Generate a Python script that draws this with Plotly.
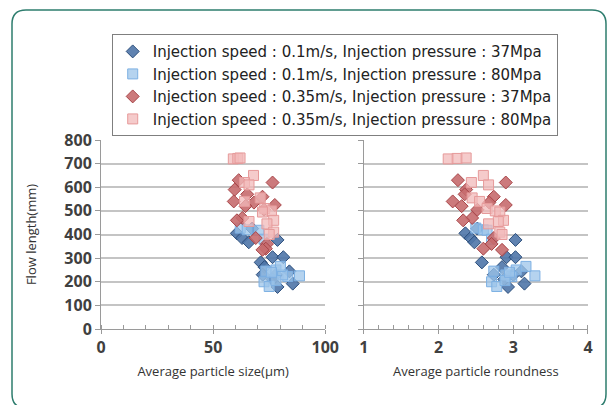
import plotly.graph_objects as go
from plotly.subplots import make_subplots

# ---- data ----
# Injection speed 0.1 m/s, pressure 37 MPa (dark blue diamonds)
s1_len   = [405, 385, 367, 425, 377, 282, 304, 304, 262, 230, 178, 192, 244, 229, 210]
s1_size  = [60.6, 62.9, 65.9, 67.4, 78.7, 71.2, 76.5, 81.3, 72.9, 72.1, 78.7, 85.5, 84.0, 78.0, 76.5]
s1_round = [2.36, 2.43, 2.48, 2.52, 3.03, 2.58, 2.91, 3.03, 2.85, 2.74, 2.93, 3.15, 3.11, 3.00, 2.88]

# Injection speed 0.1 m/s, pressure 80 MPa (light blue squares)
s2_len   = [427, 420, 418, 380, 250, 245, 222, 229, 225, 200, 180, 205, 265, 240]
s2_size  = [62.1, 65.2, 70.4, 72.7, 78.0, 73.5, 83.3, 81.0, 88.5, 72.7, 75.0, 78.0, 80.0, 76.0]
s2_round = [2.50, 2.60, 2.65, 2.71, 3.04, 2.74, 2.98, 2.90, 3.29, 2.71, 2.78, 2.89, 3.17, 2.95]

# Injection speed 0.35 m/s, pressure 37 MPa (red diamonds)
s3_len   = [630, 620, 590, 570, 560, 540, 535, 525, 520, 505, 470, 460, 385, 360, 340, 335]
s3_size  = [61.4, 76.5, 59.6, 65.2, 72.0, 59.2, 68.2, 77.5, 64.4, 72.7, 63.0, 60.6, 69.0, 74.0, 73.5, 72.0]
s3_round = [2.26, 2.90, 2.37, 2.35, 2.74, 2.19, 2.68, 2.90, 2.31, 2.52, 2.45, 2.33, 2.74, 2.71, 2.60, 2.85]

# Injection speed 0.35 m/s, pressure 80 MPa (pink squares)
s4_len   = [720, 722, 724, 650, 620, 610, 555, 540, 510, 500, 495, 460, 455, 445, 410, 400]
s4_size  = [59.0, 61.0, 62.0, 68.0, 64.0, 66.0, 71.0, 64.0, 73.0, 76.0, 72.0, 77.0, 66.0, 74.0, 77.0, 75.0]
s4_round = [2.13, 2.25, 2.37, 2.60, 2.44, 2.67, 2.45, 2.55, 2.65, 2.76, 2.82, 2.87, 2.80, 2.67, 2.82, 2.85]

names = [
    "Injection speed : 0.1m/s, Injection pressure : 37Mpa",
    "Injection speed : 0.1m/s, Injection pressure : 80Mpa",
    "Injection speed : 0.35m/s, Injection pressure : 37Mpa",
    "Injection speed : 0.35m/s, Injection pressure : 80Mpa",
]
y_ticks = [0, 100, 200, 300, 400, 500, 600, 700, 800]
size_ticks = [0, 50, 100]
round_ticks = [1, 2, 3, 4]

series = [
    (s1_len, s1_size, s1_round, "diamond", 10, "rgba(79,118,168,0.9)", "#2d4f7c"),
    (s2_len, s2_size, s2_round, "square", 10, "rgba(156,196,234,0.75)", "#7db0e3"),
    (s3_len, s3_size, s3_round, "diamond", 10, "rgba(198,107,110,0.9)", "#a84548"),
    (s4_len, s4_size, s4_round, "square", 10, "rgba(242,185,185,0.75)", "#e69a9a"),
]

fig = make_subplots(rows=1, cols=2, horizontal_spacing=0.079)
for i, (yl, xs, xr, sym, sz, fill, edge) in enumerate(series):
    mk = dict(symbol=sym, size=sz, color=fill, line=dict(color=edge, width=1))
    fig.add_trace(go.Scatter(x=xs, y=yl, mode="markers", name=names[i],
                             marker=mk, showlegend=True), row=1, col=1)
    fig.add_trace(go.Scatter(x=xr, y=yl, mode="markers", name=names[i],
                             marker=mk, showlegend=False), row=1, col=2)

tickfont = dict(family="Open Sans", size=16, color="#404040", weight="bold")
titlefont = dict(family="Open Sans", size=13, color="#333333")
grid = "#c4c4c4"
axc = "#9a9a9a"

common_y = dict(range=[0, 800], tickvals=y_ticks, showgrid=True, gridcolor=grid, gridwidth=1.5,
                showline=True, linecolor=axc, linewidth=1, ticks="outside", ticklen=5,
                tickcolor=axc, zeroline=False, tickfont=tickfont)
fig.update_yaxes(**common_y, row=1, col=1)
fig.update_yaxes(**common_y, row=1, col=2)
fig.update_yaxes(showticklabels=False, row=1, col=2)
fig.update_yaxes(title=dict(text="Flow length(mm)", font=titlefont, standoff=24), row=1, col=1)

common_x = dict(showgrid=False, showline=True, linecolor=axc, linewidth=1, ticks="outside",
                ticklen=4, tickcolor=axc, zeroline=False, tickfont=tickfont)
fig.update_xaxes(**common_x, range=[0, 100], tickvals=size_ticks,
                 minor=dict(dtick=10, ticks="inside", ticklen=4, tickcolor=axc),
                 title=dict(text="Average particle size(µm)", font=titlefont, standoff=9),
                 row=1, col=1)
fig.update_xaxes(**common_x, range=[1, 4], tickvals=round_ticks,
                 minor=dict(dtick=0.2, tick0=1, ticks="inside", ticklen=4, tickcolor=axc),
                 title=dict(text="Average particle roundness", font=titlefont, standoff=9),
                 row=1, col=2)

# rounded teal frame around the whole graphic (pixel-sized, anchored at plot origin)
L, R, T, B, r = -89, 505, 319, -79, 14
frame = (f"M {L+r},{B} L {R-r},{B} Q {R},{B} {R},{B+r} L {R},{T-r} Q {R},{T} {R-r},{T} "
         f"L {L+r},{T} Q {L},{T} {L},{T-r} L {L},{B+r} Q {L},{B} {L+r},{B} Z")
fig.add_shape(type="path", path=frame, xref="paper", yref="paper", xsizemode="pixel",
              ysizemode="pixel", xanchor=0, yanchor=0, line=dict(color="#2e7d6e", width=1.5),
              layer="below")

fig.update_layout(
    width=614, height=405,
    margin=dict(l=101, r=24, t=140, b=76),
    paper_bgcolor="white", plot_bgcolor="white",
    font=dict(family="Open Sans", color="#222222"),
    legend=dict(x=0.022, y=1.56, xanchor="left", yanchor="top",
                bordercolor="#7f7f7f", borderwidth=1, bgcolor="white",
                font=dict(family="DejaVu Sans", size=15, color="#222222"),
                itemwidth=30, tracegroupgap=0),
)

fig.write_html("out.html", config={"displayModeBar": False},
               post_script="document.body.style.margin='0';")
